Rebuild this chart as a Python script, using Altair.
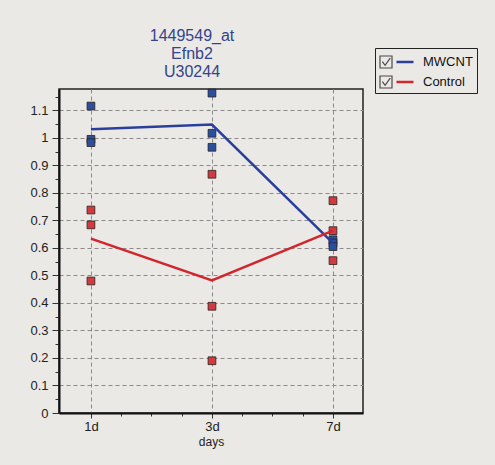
import altair as alt
import pandas as pd

days = ["1d", "3d", "7d"]
day_index = [0, 1, 2]
series_names = ["MWCNT", "Control"]
mwcnt_values = [[1.116, 0.995, 0.983], [1.163, 1.017, 0.966], [0.630, 0.618, 0.605]]
control_values = [[0.738, 0.684, 0.480], [0.868, 0.388, 0.190], [0.772, 0.663, 0.554]]
title_lines = ["1449549_at", "Efnb2", "U30244"]
y_ticks = [round(i * 0.05, 2) for i in range(0, 24)]
x_ticks = [i * 0.25 for i in range(0, 9)]

rows = []
for name, vals in zip(series_names, [mwcnt_values, control_values]):
    for d, i, reps in zip(days, day_index, vals):
        for v in reps:
            rows.append({"series": name, "series_cb": name, "day": d, "idx": i, "value": v})
df = pd.DataFrame(rows)

line_colors = ["#2a3f9c", "#d2262f"]
pt_fill = ["#2a4f9f", "#d23a40"]
checkbox_path = "M-1,-1L1,-1L1,1L-1,1Z M-0.6,-0.05L-0.15,0.55L0.7,-0.65"

label_expr = "datum.value == 0 ? '1d' : datum.value == 1 ? '3d' : datum.value == 2 ? '7d' : ''"
major_y = "abs(datum.value*10 - round(datum.value*10)) < 0.01"
major_x = "abs(datum.value - round(datum.value)) < 0.01"
y_scale = alt.Scale(domain=[0, 1.178], nice=False)
x_scale = alt.Scale(domain=[-0.264, 2.248], nice=False, zero=False)

x_axis = alt.Axis(
    values=x_ticks, labelExpr=label_expr, title="days", labelOverlap=False,
    grid=True, gridDash=[4, 3], gridColor="#8a8a8a", gridWidth=1,
    gridOpacity={"condition": {"test": major_x, "value": 1}, "value": 0},
    tickSize={"condition": {"test": major_x, "value": 5}, "value": 3},
    tickColor="#333", domainColor="#111", domainWidth=2,
    labelFont="Liberation Sans", labelFontSize=13, labelColor="#222", labelPadding=2,
    titleFont="Liberation Sans", titleFontSize=12, titleFontWeight="normal",
    titleColor="#222", titlePadding=3,
)
y_axis = alt.Axis(
    values=y_ticks, title=None, labelOverlap=False,
    labelExpr=f"({major_y}) ? format(datum.value, '~g') : ''",
    grid=True, gridDash=[4, 3], gridColor="#8a8a8a", gridWidth=1,
    gridOpacity={"condition": {"test": major_y, "value": 1}, "value": 0},
    tickSize={"condition": {"test": major_y, "value": 7}, "value": 4},
    tickColor="#333", domainColor="#111", domainWidth=2,
    labelFont="Liberation Sans", labelFontSize=13, labelColor="#222", labelPadding=4,
)

lines = alt.Chart(df).mark_line(strokeWidth=2.5).encode(
    x=alt.X("idx:Q", scale=x_scale, axis=x_axis),
    y=alt.Y("mean(value):Q", scale=y_scale, axis=y_axis),
    color=alt.Color(
        "series:N", scale=alt.Scale(domain=series_names, range=line_colors),
        sort=series_names,
        legend=alt.Legend(
            title=None, orient="none", legendX=316, legendY=-41,
            symbolType="stroke", symbolStrokeWidth=2.5, symbolSize=289, symbolOffset=16,
            labelFont="Liberation Sans", labelFontSize=13, labelColor="#111",
            labelExpr="datum.label + '\u00a0\u00a0\u00a0\u00a0\u00a0'",
            strokeColor="#222", padding=4, rowPadding=3, labelOffset=8,
        ),
    ),
)

points = alt.Chart(df).mark_square(size=60, opacity=1, stroke="#2a2020", strokeWidth=0.8).encode(
    x=alt.X("idx:Q", scale=x_scale, axis=x_axis),
    y=alt.Y("value:Q", scale=y_scale, axis=y_axis),
    fill=alt.Fill("series:N", scale=alt.Scale(domain=series_names, range=pt_fill), legend=None),
)

checkboxes = alt.Chart(df).mark_point(opacity=0).encode(
    x=alt.X("idx:Q", scale=x_scale, axis=x_axis),
    y=alt.Y("value:Q", scale=y_scale, axis=y_axis),
    shape=alt.Shape(
        "series_cb:N", sort=series_names,
        scale=alt.Scale(domain=series_names, range=[checkbox_path, checkbox_path]),
        legend=alt.Legend(
            title=None, orient="none", legendX=320, legendY=-34,
            symbolSize=144, symbolStrokeColor="#4a4a4a", symbolStrokeWidth=1.2,
            symbolFillColor="transparent", symbolOpacity=1,
            labelExpr="''", labelFontSize=13, labelOffset=0, rowPadding=2, padding=0,
        ),
    ),
)

chart = alt.layer(points, lines, checkboxes).properties(
    width=304, height=324,
    title=alt.TitleParams(
        text=title_lines, font="Liberation Sans", fontSize=16, fontWeight="normal",
        color="#34448c", anchor="middle", dx=-19, dy=42, offset=10, lineHeight=18, frame="group",
    ),
    autosize=alt.AutoSizeParams(type="none"),
    padding={"left": 59, "top": 89, "right": 132, "bottom": 52},
    background="#ebe9e5",
).configure_view(stroke="#222", strokeWidth=1.5, fill="#ebe9e5").resolve_legend(
    color="independent", shape="independent"
)

chart.save("out.html", embed_options={"renderer": "svg", "actions": False})
